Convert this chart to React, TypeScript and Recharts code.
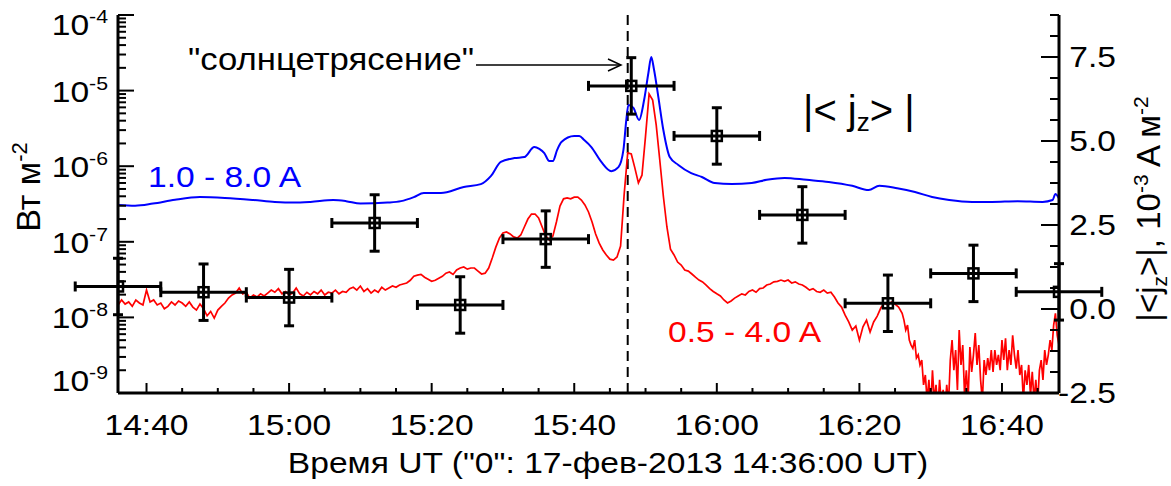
import React from 'react';
import { ComposedChart, Line, Scatter, ErrorBar, XAxis, YAxis, ReferenceLine } from 'recharts';

const FONT = "'Liberation Sans', Arial, Helvetica, sans-serif";
// the lettering is set slightly wide
const SX = 1.12;

// time axis: minutes after 14:36:00 UT
const xDomain = [0, 132];
const xTicks = [4, 9, 14, 19, 24, 29, 34, 39, 44, 49, 54, 59, 64, 69, 74, 79, 84, 89, 94, 99, 104, 109, 114, 119, 124, 129];
const xLabelMinutes = [4, 24, 44, 64, 84, 104, 124];
const xLabels = ['14:40', '15:00', '15:20', '15:40', '16:00', '16:20', '16:40'];

// GOES 0.5-4.0 A channel, W m^-2, every redStep minutes from 14:36 up to redTailStart
const redStep = 0.5;
const redFlux = [
  1.46e-8, 1.7e-8, 1.5e-8, 1.6e-8, 1.4e-8, 1.7e-8, 1.55e-8, 1.46e-8, 2.3e-8, 1.6e-8, 1.7e-8,
  1.46e-8, 1.55e-8, 1.3e-8, 1.4e-8, 1.6e-8, 1.46e-8, 1.65e-8, 1.55e-8, 1.4e-8, 1.6e-8,
  1.37e-8, 1.25e-8, 1.5e-8, 1.3e-8, 1.05e-8, 1.2e-8, 0.98e-8, 1.25e-8, 1.4e-8, 1.55e-8,
  1.8e-8, 1.98e-8, 2.1e-8, 2.45e-8, 2.05e-8, 2.15e-8, 1.8e-8, 1.98e-8, 1.86e-8, 2.05e-8,
  1.92e-8, 2.1e-8, 2.3e-8, 2.15e-8, 2.4e-8, 2.05e-8, 2.2e-8, 1.98e-8, 2.1e-8, 2.45e-8,
  2.05e-8, 1.92e-8, 2.15e-8, 1.98e-8, 2.2e-8, 2.05e-8, 2.3e-8, 1.98e-8, 2.15e-8, 2.1e-8,
  2.3e-8, 2.05e-8, 2.2e-8, 2.15e-8, 2.4e-8, 2.5e-8, 2.3e-8, 2.6e-8, 2.2e-8, 2.4e-8,
  2.1e-8, 2.3e-8, 2.15e-8, 2.5e-8, 2.3e-8, 2.45e-8, 2.6e-8, 2.5e-8, 2.68e-8, 2.77e-8,
  2.85e-8, 3.1e-8, 3.5e-8, 3.63e-8, 3.7e-8, 3.4e-8, 3.2e-8, 3.0e-8, 3.1e-8, 3.3e-8,
  3.5e-8, 3.85e-8, 3.98e-8, 3.7e-8, 4.24e-8, 4.5e-8, 4.65e-8, 4.35e-8, 4.5e-8, 4.5e-8,
  4.1e-8, 3.75e-8, 3.85e-8, 4.5e-8, 6.1e-8, 8.5e-8, 1.12e-7, 1.31e-7, 1.35e-7, 1.27e-7,
  1.16e-7, 1.12e-7, 1.23e-7, 1.57e-7, 2.0e-7, 2.33e-7, 2.33e-7, 2.07e-7, 1.57e-7, 1.19e-7,
  1.06e-7, 1.19e-7, 1.83e-7, 2.97e-7, 3.7e-7, 3.8e-7, 3.7e-7, 3.9e-7, 3.9e-7, 3.57e-7,
  3.07e-7, 2.48e-7, 1.83e-7, 1.27e-7, 9.6e-8, 7.8e-8, 6.7e-8, 5.9e-8, 5.74e-8, 6.3e-8,
  8.8e-8, 4.2e-7, 1.5e-6, 1.45e-6, 9.5e-7, 6.0e-7, 7.6e-7, 2.5e-6, 9.0e-6, 7.5e-6,
  3.5e-6, 1.2e-6, 4.0e-7, 1.57e-7, 8.0e-8, 6.7e-8, 5.4e-8, 4.93e-8, 4.24e-8, 4.1e-8,
  3.75e-8, 3.4e-8, 3.12e-8, 2.95e-8, 2.68e-8, 2.4e-8, 2.2e-8, 2.05e-8, 1.92e-8, 1.7e-8,
  1.55e-8, 1.65e-8, 1.8e-8, 1.92e-8, 2.05e-8, 1.98e-8, 2.2e-8, 2.3e-8, 2.15e-8, 2.4e-8,
  2.45e-8, 2.68e-8, 2.77e-8, 2.95e-8, 3.0e-8, 3.12e-8, 3.0e-8, 3.12e-8, 2.85e-8, 2.95e-8,
  2.77e-8, 2.68e-8, 2.5e-8, 2.3e-8, 2.4e-8, 2.2e-8, 2.15e-8, 2.3e-8, 2.1e-8, 2.15e-8,
  1.86e-8, 1.55e-8, 1.37e-8, 1.07e-8, 8.7e-9, 6.8e-9, 7.7e-9, 5.0e-9, 7.5e-9, 9.2e-9,
  6.4e-9, 8.7e-9, 1.04e-8, 1.33e-8, 1.55e-8, 1.46e-8, 1.6e-8, 1.5e-8, 1.37e-8,
];

// noisy tail of the same channel, finer sampling from 16:26
const redTailStart = 110;
const redTailStep = 0.25;
const redTailFlux = [
  1.13e-8, 9.2e-9, 6.8e-9, 7.9e-9, 5.0e-9, 4.3e-9, 3.9e-9, 5.0e-9, 2.9e-9, 3.2e-9,
  2.35e-9, 2.73e-9, 1.28e-9, 1.73e-9, 8e-10, 1.49e-9, 6e-10, 2.0e-9, 8e-10, 1.28e-9,
  6e-10, 1.49e-9, 7e-10, 1.1e-9, 6e-10, 1.28e-9, 7e-10, 2.73e-9, 5.0e-9, 2.0e-9,
  3.7e-9, 1.1e-9, 6.8e-9, 2.35e-9, 4.3e-9, 9.4e-10, 2.0e-9, 8e-10, 4.06e-9, 1.9e-9,
  3.2e-9, 6.2e-9, 2.35e-9, 4.3e-9, 1.49e-9, 8e-10, 2.73e-9, 1.73e-9, 2.9e-9, 2.0e-9,
  3.7e-9, 1.9e-9, 3.7e-9, 2.35e-9, 3.2e-9, 2.0e-9, 5.0e-9, 2.73e-9, 5.3e-9, 2.0e-9,
  3.7e-9, 2.35e-9, 5.8e-9, 3.2e-9, 2.1e-9, 3.7e-9, 1.73e-9, 2.35e-9, 8e-10, 2.0e-9,
  1.28e-9, 2.35e-9, 9.4e-10, 1.9e-9, 8e-10, 1.49e-9, 7e-10, 2.0e-9, 2.73e-9, 1.49e-9,
  3.7e-9, 2.35e-9, 3.2e-9, 5.0e-9, 3.7e-9, 7.9e-9, 1.13e-8, 5.8e-9, 4.3e-9,
];

// GOES 1.0-8.0 A channel, W m^-2
const blueMinutes = [
  0, 2.4, 4.9, 8, 11.5, 15, 19, 22, 24.6, 27, 30.2, 32, 34, 37.8, 39.7, 41.5, 42.9, 45.3, 48.5, 50.9,
  52.3, 53.7, 55.6, 57, 58.4, 59.1, 59.8, 60.5, 61, 61.6, 62.2, 64, 64.7, 65.4, 66.4, 67.8, 69.2, 70.2,
  70.9, 71.3, 71.6, 72.3, 73.1, 73.8, 74.4, 74.8, 75.2, 75.8, 76.5, 77.4, 78.6, 80.4, 81.9, 83.7, 86.1,
  88.9, 91, 93.5, 96.6, 99.7, 103, 105.3, 106.8, 109.3, 111.8, 114.2, 116.6, 119.8, 122.6, 126.2, 129.7,
  131.1, 131.5, 132,
];
const blueFlux = [
  3.07e-7, 3.0e-7, 3.2e-7, 3.6e-7, 3.9e-7, 3.8e-7, 3.57e-7, 3.37e-7, 3.3e-7, 3.37e-7, 3.57e-7, 3.45e-7,
  3.2e-7, 3.3e-7, 3.45e-7, 3.9e-7, 4.42e-7, 4.42e-7, 5.3e-7, 5.8e-7,
  7.4e-7, 1.14e-6, 1.28e-6, 1.32e-6, 1.79e-6, 1.69e-6, 1.49e-6, 1.17e-6, 1.17e-6, 1.64e-6, 2.09e-6,
  2.51e-6, 2.51e-6, 2.22e-6, 1.79e-6, 1.14e-6, 8.6e-7, 9.7e-7,
  1.64e-6, 4.08e-6, 6.45e-6, 5.9e-6, 4.08e-6, 7.5e-6, 1.71e-5, 2.78e-5, 1.87e-5, 8.2e-6, 3.01e-6,
  1.32e-6, 1.04e-6, 8.1e-7, 7.2e-7, 6.0e-7, 5.8e-7,
  6.0e-7, 6.6e-7, 7.0e-7, 6.6e-7, 6.2e-7, 5.5e-7, 4.84e-7, 5.5e-7, 5.1e-7, 4.55e-7, 3.91e-7, 3.57e-7,
  3.37e-7, 3.37e-7, 3.45e-7, 3.37e-7,
  3.57e-7, 4.3e-7, 3.73e-7,
];

// |<jz>|, 1e-3 A m^-2, 12-minute magnetogram cadence
const jzMinutes = [0, 12, 24, 36, 48, 60, 72, 84, 96, 108, 120, 132];
const jzValues = [0.67, 0.5, 0.34, 2.56, 0.12, 2.08, 6.64, 5.15, 2.8, 0.17, 1.06, 0.51];
const jzError = 0.84;
const jzHalfWindow = 6;

const quakeMinute = 71.5;

const fluxExponents = [-9, -8, -7, -6, -5, -4];
const fluxMultipliers = [1, 2, 3, 4, 5, 6, 7, 8, 9];
const jzTicks = [-2.5, -1.875, -1.25, -0.625, 0, 0.625, 1.25, 1.875, 2.5, 3.125, 3.75, 4.375, 5, 5.625, 6.25, 6.875, 7.5, 8.125, 8.75];
const jzLabelValues = [-2.5, 0, 2.5, 5, 7.5];

const fluxTicks: number[] = [];
fluxExponents.forEach((e) => {
  fluxMultipliers.forEach((k) => {
    if (e < -4 || k === 1) fluxTicks.push(k * Math.pow(10, e));
  });
});

const redData = [
  ...redFlux.map((f, i) => ({ t: i * redStep, f })),
  ...redTailFlux.map((f, i) => ({ t: redTailStart + i * redTailStep, f })),
];
const blueData = blueMinutes.map((t, i) => ({ t, f: blueFlux[i] }));
const jzData = jzMinutes.map((t, i) => ({ t, j: jzValues[i], jErr: jzError, tErr: jzHalfWindow }));

const WideText = ({ x, y, size = 30, anchor = 'start', fill = '#000', children }: any) => (
  <text
    transform={`translate(${x},${y}) scale(${SX},1)`}
    textAnchor={anchor}
    fontFamily={FONT}
    fontSize={size}
    fill={fill}
  >
    {children}
  </text>
);

const LeftTick = (props: any) => {
  const { x, y, payload } = props;
  const lg = Math.log10(payload.value);
  const e = Math.round(lg);
  const major = Math.abs(lg - e) < 1e-6;
  let dy = 11;
  if (e === -4) dy += 9;
  if (e === -9) dy -= 13;
  return (
    <g>
      <line x1={x} y1={y} x2={x + (major ? 16 : 8)} y2={y} stroke="#000" strokeWidth={2} />
      {major && (
        <WideText x={x - 10} y={y + dy} anchor="end">
          10<tspan dy={-12} fontSize={19}>{e}</tspan>
        </WideText>
      )}
    </g>
  );
};

const RightTick = (props: any) => {
  const { x, y, payload } = props;
  const major = jzLabelValues.includes(payload.value);
  return (
    <g>
      <line x1={x} y1={y} x2={x - (major ? 18 : 9)} y2={y} stroke="#000" strokeWidth={2} />
      {major && (
        <WideText x={x + 57} y={y + 10} anchor="end">
          {payload.value.toFixed(1)}
        </WideText>
      )}
    </g>
  );
};

const BottomTick = (props: any) => {
  const { x, y, payload } = props;
  const idx = xLabelMinutes.indexOf(payload.value);
  return (
    <g>
      <line x1={x} y1={y} x2={x} y2={y - (idx >= 0 ? 10 : 5)} stroke="#000" strokeWidth={2} />
      {idx >= 0 && (
        <WideText x={x} y={y + 42} anchor="middle">
          {xLabels[idx]}
        </WideText>
      )}
    </g>
  );
};

const TopTick = (props: any) => {
  const { x, y, payload } = props;
  const major = xLabelMinutes.includes(payload.value);
  return <line x1={x} y1={y} x2={x} y2={y + (major ? 10 : 5)} stroke="#000" strokeWidth={2} />;
};

const BoxShape = (props: any) => {
  const { cx, cy } = props;
  return <rect x={cx - 5} y={cy - 5} width={10} height={10} fill="none" stroke="#000" strokeWidth={2.5} />;
};

const frame = { stroke: '#000', strokeWidth: 3 };

export default function App() {
  return (
    <div style={{ position: 'absolute', left: 0, top: 0, width: 1171, height: 486, background: '#fff', fontFamily: FONT }}>
      <ComposedChart width={1171} height={486} margin={{ top: 15, right: 0, bottom: 0, left: 0 }}>
        <XAxis
          xAxisId="b"
          dataKey="t"
          type="number"
          domain={xDomain}
          allowDataOverflow
          ticks={xTicks}
          interval={0}
          height={93}
          tickSize={0}
          tickMargin={0}
          tickLine={false}
          axisLine={frame}
          tick={BottomTick}
        />
        <XAxis
          xAxisId="top"
          orientation="top"
          dataKey="t"
          type="number"
          domain={xDomain}
          allowDataOverflow
          ticks={xTicks}
          interval={0}
          height={0}
          tickSize={0}
          tickMargin={0}
          tickLine={false}
          axisLine={frame}
          tick={TopTick}
        />
        <YAxis
          yAxisId="flux"
          scale="log"
          type="number"
          domain={[1e-9, 1e-4]}
          allowDataOverflow
          ticks={fluxTicks}
          interval={0}
          width={118}
          tickSize={0}
          tickMargin={0}
          tickLine={false}
          axisLine={frame}
          tick={LeftTick}
        />
        <YAxis
          yAxisId="j"
          orientation="right"
          type="number"
          domain={[-2.5, 8.75]}
          allowDataOverflow
          ticks={jzTicks}
          interval={0}
          width={112}
          tickSize={0}
          tickMargin={0}
          tickLine={false}
          axisLine={frame}
          tick={RightTick}
        />
        <ReferenceLine x={quakeMinute} xAxisId="b" yAxisId="flux" stroke="#000" strokeWidth={2} strokeDasharray="10 6" />
        <Line
          data={redData}
          xAxisId="b"
          yAxisId="flux"
          dataKey="f"
          type="linear"
          stroke="#ff0000"
          strokeWidth={1.7}
          dot={false}
          isAnimationActive={false}
        />
        <Line
          data={blueData}
          xAxisId="b"
          yAxisId="flux"
          dataKey="f"
          type="monotone"
          stroke="#0000ff"
          strokeWidth={2}
          dot={false}
          isAnimationActive={false}
        />
        <Scatter data={jzData} xAxisId="b" yAxisId="j" dataKey="j" shape={BoxShape} isAnimationActive={false}>
          <ErrorBar dataKey="jErr" direction="y" width={5} stroke="#000" strokeWidth={3} />
          <ErrorBar dataKey="tErr" direction="x" width={5} stroke="#000" strokeWidth={3} />
        </Scatter>
      </ComposedChart>
      <svg width={1171} height={486} style={{ position: 'absolute', left: 0, top: 0, pointerEvents: 'none' }}>
        <WideText x={188} y={70} size={31}>"солнцетрясение"</WideText>
        <line x1={476} y1={65} x2={621} y2={65} stroke="#000" strokeWidth={1.5} />
        <polyline points="608,59 621,65 608,71" fill="none" stroke="#000" strokeWidth={1.5} />
        <WideText x={148} y={187} fill="#0000ff">1.0 - 8.0 A</WideText>
        <WideText x={668} y={342} fill="#ff0000">0.5 - 4.0 A</WideText>
        <text x={803} y={124} fontSize={40} fontFamily={FONT} fill="#000">
          |&lt; j<tspan dy={7} fontSize={26}>z</tspan><tspan dy={-7}>&gt; |</tspan>
        </text>
        <WideText x={608} y={473} anchor="middle">Время UT ("0": 17-фев-2013 14:36:00 UT)</WideText>
        <text transform="translate(40,187) rotate(-90)" fontSize={34} fontFamily={FONT} textAnchor="middle" fill="#000">
          Вт м<tspan dy={-13} fontSize={22}>-2</tspan>
        </text>
        <text transform="translate(1160,209) rotate(-90)" fontSize={33} fontFamily={FONT} textAnchor="middle" fill="#000">
          |&lt;j<tspan dy={7} fontSize={21}>z</tspan>
          <tspan dy={-7}>&gt;|, 10</tspan>
          <tspan dy={-12} fontSize={21}>-3</tspan>
          <tspan dy={12}> A м</tspan>
          <tspan dy={-12} fontSize={21}>-2</tspan>
        </text>
      </svg>
    </div>
  );
}
